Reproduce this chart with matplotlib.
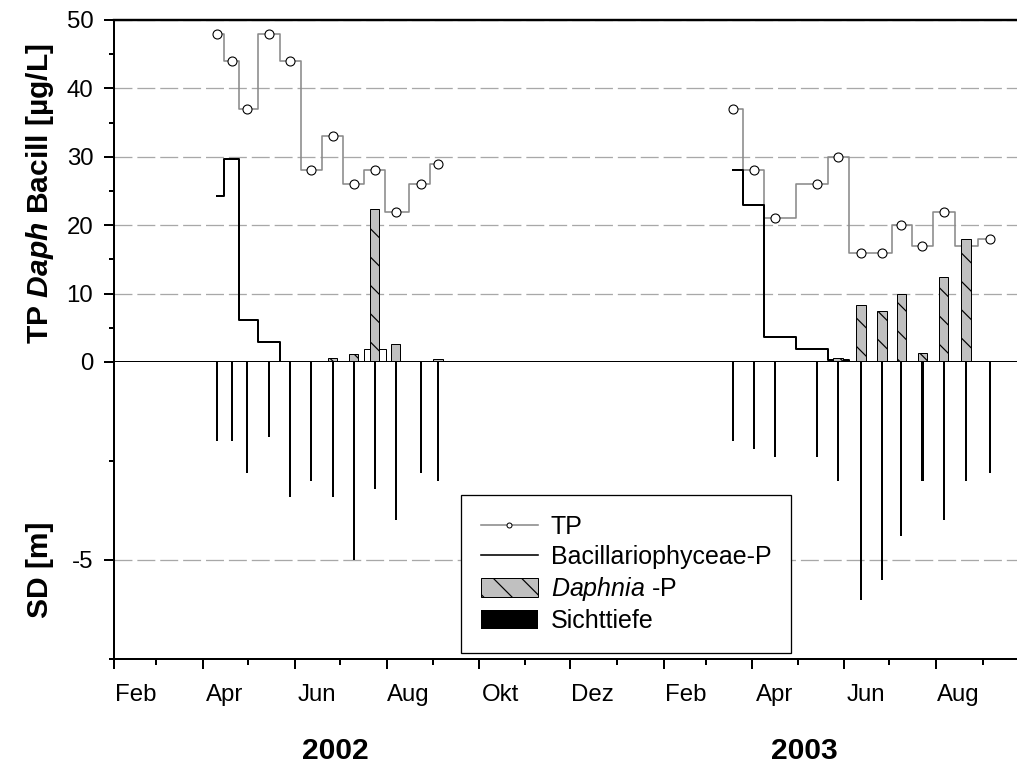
import numpy as np
import pandas as pd
import matplotlib
matplotlib.use('Agg')
import matplotlib.pyplot as plt
import matplotlib.dates as mdates
from matplotlib.lines import Line2D

DPI = 170
W, H = 1017, 763


def pt(px):
    # pixel sizes -> points at the output dpi
    return px * 72.0 / DPI


# sampling dates and measured values
dates_2002 = ['2002-04-10', '2002-04-20', '2002-04-30', '2002-05-15', '2002-05-29', '2002-06-12',
              '2002-06-26', '2002-07-10', '2002-07-24', '2002-08-07', '2002-08-24', '2002-09-04']
dates_2003 = ['2003-03-19', '2003-04-02', '2003-04-16', '2003-05-14', '2003-05-28', '2003-06-12',
              '2003-06-26', '2003-07-09', '2003-07-23', '2003-08-06', '2003-08-21', '2003-09-06']

tp_2002 = [48, 44, 37, 48, 44, 28, 33, 26, 28, 22, 26, 29]
tp_2003 = [37, 28, 21, 26, 30, 16, 16, 20, 17, 22, 17, 18]
bacil_2002 = [24.3, 29.7, 6.2, 2.9, 0, 0, 0, 0, 0, 0, 0, 0]
bacil_2003 = [28, 23, 3.7, 1.9, 0.3, 0, 0, 0, 0, 0, 0, 0]
daph_2002 = [0, 0, 0, 0, 0, 0, 0.6, 1.2, 22.3, 2.6, 0.05, 0.4]
daph_2003 = [0, 0, 0, 0.05, 0.65, 8.3, 7.45, 10.0, 1.3, 12.5, 18.0, 0.05]
sd_2002 = [2.0, 2.0, 2.8, 1.9, 3.4, 3.0, 3.4, 5.0, 3.2, 4.0, 2.8, 3.0]
sd_2003 = [2.0, 2.2, 2.4, 2.4, 3.0, 6.0, 5.5, 4.4, 3.0, 4.0, 3.0, 2.8]

# open box behind the big Daphnia bar in July 2002
box_date = '2002-07-24'
box_value = 1.9

month_names = ['Feb', 'Apr', 'Jun', 'Aug', 'Okt', 'Dez', 'Feb', 'Apr', 'Jun', 'Aug']
years = ['2002', '2003']

plt.rcParams['font.family'] = ['Liberation Sans', 'DejaVu Sans']
plt.rcParams['axes.unicode_minus'] = False
plt.rcParams['mathtext.fontset'] = 'custom'
plt.rcParams['mathtext.rm'] = 'Liberation Sans'
plt.rcParams['mathtext.it'] = 'Liberation Sans:italic'
plt.rcParams['mathtext.bf'] = 'Liberation Sans:bold'
plt.rcParams['mathtext.bfit'] = 'Liberation Sans:italic:bold'
plt.rcParams['hatch.color'] = 'black'
plt.rcParams['hatch.linewidth'] = pt(1.2)


def num(d):
    return mdates.date2num(pd.to_datetime(d))


x02 = num(dates_2002)
x03 = num(dates_2003)
x_start = num('2002-02-01')
x_end = x_start + (W - 114.3) / 1.505

fig = plt.figure(figsize=(W / DPI, H / DPI), dpi=DPI)
left = 114.3 / W
ax_top = fig.add_axes([left, 1 - 362 / H, 1 - left, 342 / H])
ax_bot = fig.add_axes([left, 1 - 659 / H, 1 - left, 297 / H])

tp_color = '#8a8a8a'
grid_kw = dict(color='#a8a8a8', linestyle=(0, (13.8, 3.8)), linewidth=pt(1.3))

# upper panel: phosphorus fractions
for x, tp, bac in [(x02, tp_2002, bacil_2002), (x03, tp_2003, bacil_2003)]:
    ax_top.plot(x, tp, drawstyle='steps-mid', color=tp_color, lw=pt(1.6),
                marker='o', ms=pt(9), mfc='white', mec='black', mew=pt(1.1), zorder=2)
    ax_top.plot(x, bac, drawstyle='steps-mid', color='black', lw=pt(2), zorder=2)

ax_top.bar(num(box_date), box_value, width=14.4, color='white', edgecolor='black',
           lw=pt(1), zorder=2.8)
daph_bars = None
for x, dp in [(x02, daph_2002), (x03, daph_2003)]:
    daph_bars = ax_top.bar(x, dp, width=6.3, color='#c0c0c0', edgecolor='black',
                           hatch='\\\\', lw=pt(1), zorder=3)

ax_top.set_xlim(x_start, x_end)
ax_top.set_ylim(0, 50)
ax_top.set_yticks(np.arange(0, 51, 10))
ax_top.set_yticks(np.arange(5, 50, 10), minor=True)
ax_top.yaxis.grid(True, which='major', **grid_kw)
ax_top.set_axisbelow(True)
ax_top.tick_params(axis='x', which='both', bottom=False, labelbottom=False)
ax_top.spines['right'].set_visible(False)
ax_top.spines['top'].set_linewidth(pt(2.4))
ax_top.spines['left'].set_linewidth(pt(2))
ax_top.spines['bottom'].set_linewidth(pt(3))
ax_top.spines['bottom'].set_zorder(4)
ax_top.patch.set_alpha(0)

# lower panel: Secchi depth
sd_bars = None
for x, sd in [(x02, sd_2002), (x03, sd_2003)]:
    sd_bars = ax_bot.bar(x, -np.array(sd), width=1.35, color='black', lw=0, zorder=3)

ax_bot.set_xlim(x_start, x_end)
ax_bot.set_ylim(-7.5, 0)
ax_bot.set_yticks([-5])
ax_bot.set_yticks([-7.5, -2.5], minor=True)
ax_bot.yaxis.grid(True, which='major', **grid_kw)
ax_bot.set_axisbelow(True)
ax_bot.spines['right'].set_visible(False)
ax_bot.spines['top'].set_visible(False)
ax_bot.spines['left'].set_linewidth(pt(2))
ax_bot.spines['bottom'].set_linewidth(pt(2))

month_starts = pd.date_range('2002-02-01', '2003-09-01', freq='MS')
ax_bot.set_xticks(num(month_starts[::2]))
ax_bot.set_xticks(num(month_starts[1::2]), minor=True)
ax_bot.tick_params(axis='x', which='both', labelbottom=False)
ax_bot.tick_params(axis='x', which='major', length=pt(10), width=pt(2), direction='out')
ax_bot.tick_params(axis='x', which='minor', length=pt(6), width=pt(2), direction='out')

mids = num(month_starts[::2]) + 14.5
sec = ax_bot.secondary_xaxis('bottom')
sec.set_xticks(mids, labels=month_names)
sec.tick_params(length=0, pad=pt(25), labelsize=pt(24))
sec.spines['bottom'].set_visible(False)

for ax in (ax_top, ax_bot):
    ax.tick_params(axis='y', which='major', length=pt(10), width=pt(2), direction='out',
                   labelsize=pt(24), pad=pt(11))
    ax.tick_params(axis='y', which='minor', length=pt(5), width=pt(2), direction='out')

# legend
tp_handle = Line2D([], [], color=tp_color, lw=pt(1.6), marker='o', ms=pt(5),
                   mfc='white', mec='black', mew=pt(1))
bac_handle = Line2D([], [], color='black', lw=pt(1.6))
leg = ax_bot.legend([tp_handle, bac_handle, daph_bars, sd_bars],
                    ['TP', 'Bacillariophyceae-P', r'$\mathit{Daphnia}$ -P', 'Sichttiefe'],
                    loc='upper left', bbox_to_anchor=(460.7 / W, 1 - 495 / H),
                    bbox_transform=fig.transFigure, borderaxespad=0, numpoints=1,
                    fontsize=pt(25), frameon=True, fancybox=False, framealpha=1,
                    edgecolor='black', handlelength=2.3, handleheight=0.8,
                    handletextpad=0.5, labelspacing=0.24, borderpad=0.8)
leg.get_frame().set_linewidth(pt(1.3))
leg.set_zorder(5)

# axis titles and year captions
fig.text(40 / W, 1 - 194 / H, r'TP $\mathbfit{Daph}$ Bacill [µg/L]', rotation=90,
         ha='center', va='center', fontsize=pt(30), fontweight='bold')
fig.text(40 / W, 1 - 570 / H, 'SD [m]', rotation=90,
         ha='center', va='center', fontsize=pt(30), fontweight='bold')
for xpos, yr in zip([335, 804], years):
    fig.text(xpos / W, 1 - 751 / H, yr, ha='center', va='center',
             fontsize=pt(30), fontweight='bold')

fig.savefig('out.png', dpi=DPI)
